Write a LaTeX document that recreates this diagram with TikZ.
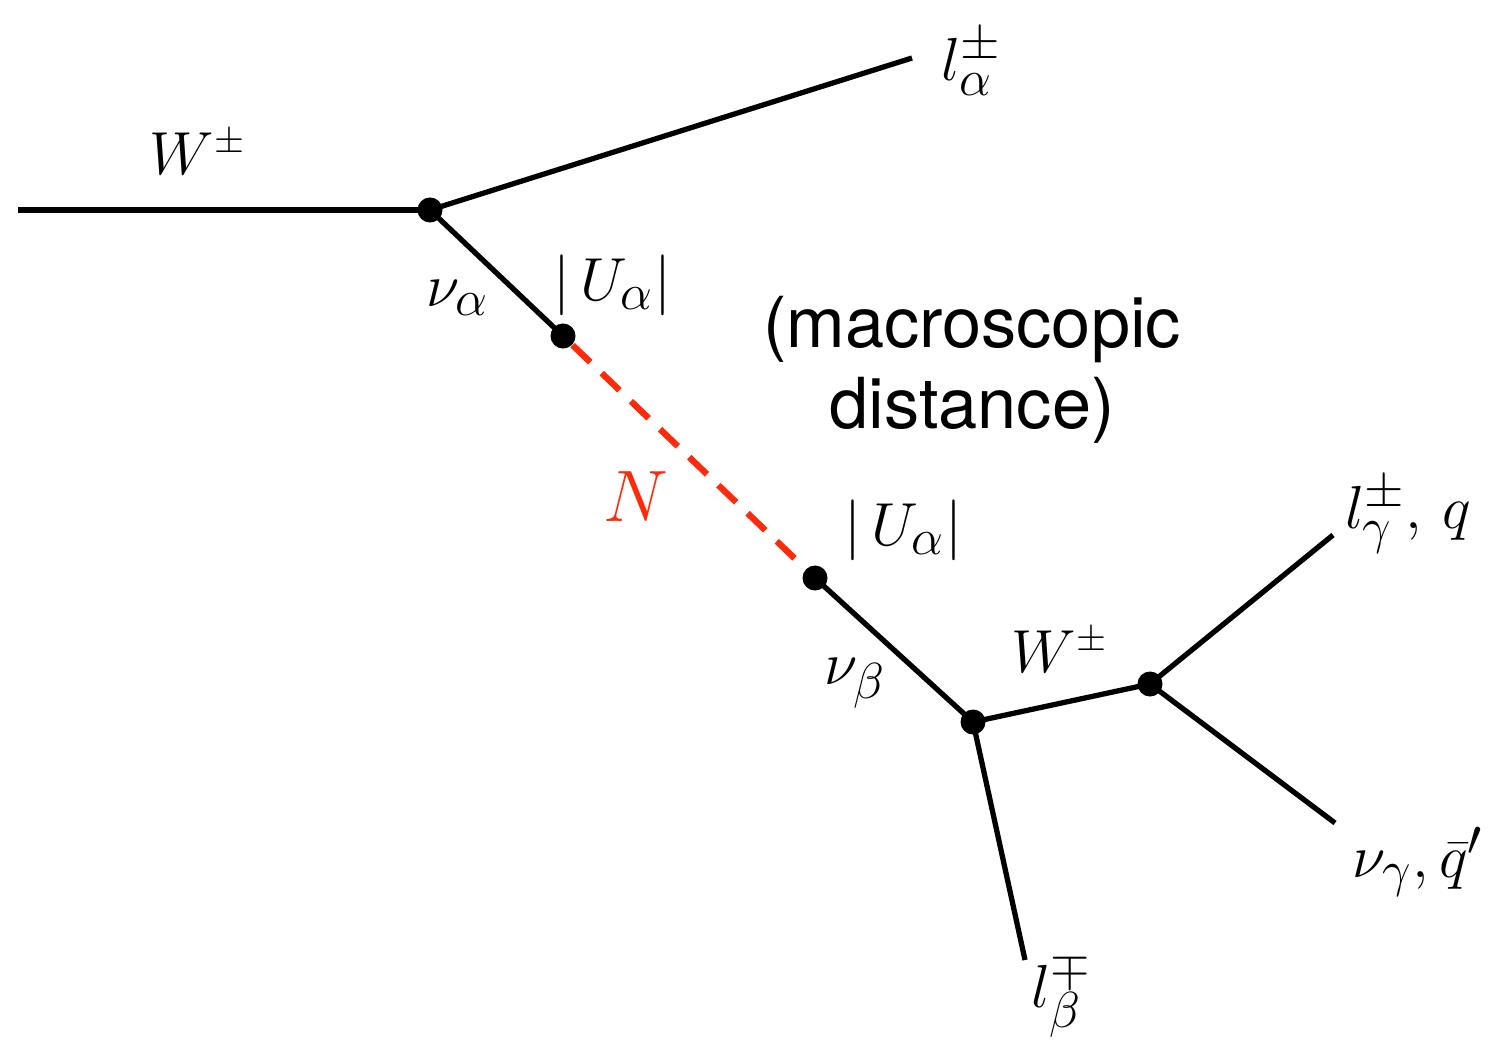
\documentclass[tikz,border=0pt]{standalone}
\usepackage{fontspec}
\setsansfont{TeX Gyre Heros}
\usetikzlibrary{calc}
\definecolor{NRed}{HTML}{FF2A0A}

\begin{document}
\begin{tikzpicture}[x=0.01cm, y=-0.01cm,
    line/.style={line width=1.5pt},
    sterile/.style={NRed, line width=1.8pt, dash pattern=on 7pt off 4.5pt},
    vtx/.style={circle, fill=black, inner sep=0pt, minimum size=0.25cm},
    lbl/.style={font=\fontsize{19}{23}\selectfont}]

    \useasboundingbox (0,0) rectangle (1489,1046);

    % vertices
    \node[vtx] (vA) at (430,210) {};
    \node[vtx] (vB) at (563,336) {};
    \node[vtx] (vC) at (815,578) {};
    \node[vtx] (vD) at (973,722) {};
    \node[vtx] (vE) at (1150,684) {};

    % free ends
    \coordinate (wIn) at (18,210);
    \coordinate (lAlpha) at (912,58);
    \coordinate (lBeta) at (1025,960);
    \coordinate (lGamma) at (1333,535);
    \coordinate (nuGamma) at (1335,823);

    \draw[line] (wIn) -- (vA.center);
    \draw[line] (vA.center) -- (lAlpha);
    \draw[line] (vA.center) -- (vB.center);
    \draw[sterile] (vB) -- (vC);
    \draw[line] (vC.center) -- (vD.center);
    \draw[line] (vD.center) -- (vE.center);
    \draw[line] (vE.center) -- (lGamma);
    \draw[line] (vE.center) -- (nuGamma);
    \draw[line] (vD.center) -- (lBeta);

    % labels
    \node[font=\fontsize{16}{20}\selectfont] (wLbl) at (198,152) {$W^{\pm}$};
    \node[lbl] (lAlphaLbl) at (972,62) {$l_{\alpha}^{\pm}$};
    \node[lbl] (nuAlphaLbl) at (458,298) {$\nu_{\alpha}$};
    \node[lbl] (uOne) at (612,285) {$|\,U_{\alpha}|$};
    \node[NRed, font=\fontsize{21}{25}\selectfont] (nLbl) at (636,497) {$N$};
    \node[lbl] (uTwo) at (903,530) {$|\,U_{\alpha}|$};
    \node[lbl] (nuBetaLbl) at (855,683) {$\nu_{\beta}$};
    \node[font=\fontsize{16}{20}\selectfont] (wTwoLbl) at (1060,650) {$W^{\pm}$};
    \node[lbl] (lGammaLbl) at (1408,515) {$l_{\gamma}^{\pm},\,q$};
    \node[lbl] (nuGammaLbl) at (1418,862) {$\nu_{\gamma},\bar{q}'$};
    \node[lbl] (lBetaLbl) at (1062,995) {$l_{\beta}^{\mp}$};
    \node[align=center, font=\sffamily\fontsize{20}{23}\selectfont] (macro) at (972,370)
        {(macroscopic\\distance)};
\end{tikzpicture}
\end{document}
